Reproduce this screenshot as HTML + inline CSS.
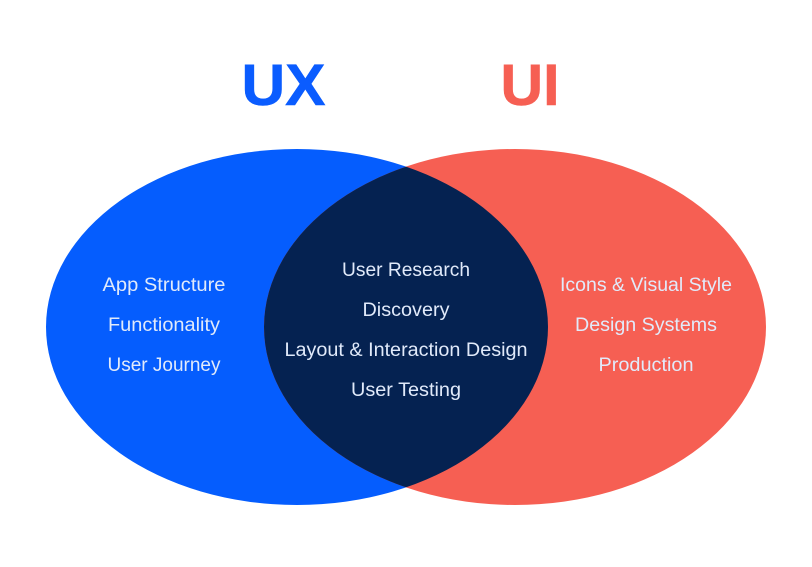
<!DOCTYPE html>
<html>
<head>
<meta charset="utf-8">
<style>
html,body{margin:0;padding:0;background:#fff;width:812px;height:567px;overflow:hidden}
svg{display:block}
text{font-family:"Liberation Sans",sans-serif;text-anchor:middle}
.t{font-size:19px;fill:#e1eafa}
.h{font-size:58px;font-weight:bold;stroke-width:.6px}
</style>
</head>
<body>
<svg width="812" height="567" viewBox="0 0 812 567" xmlns="http://www.w3.org/2000/svg">
<defs><clipPath id="c"><ellipse cx="297" cy="327" rx="251" ry="178"/></clipPath></defs>
<rect width="812" height="567" fill="#fff"/>
<text class="h" x="283.500" y="105" fill="#0a5cff" stroke="#0a5cff" textLength="84" lengthAdjust="spacingAndGlyphs">UX</text>
<text class="h" x="530" y="105" fill="#f65f53" stroke="#f65f53" textLength="59" lengthAdjust="spacingAndGlyphs">UI</text>
<ellipse cx="297" cy="327" rx="251" ry="178" fill="#055dfe"/>
<ellipse cx="515" cy="327" rx="251" ry="178" fill="#f65f53"/>
<ellipse cx="515" cy="327" rx="251" ry="178" fill="#052251" clip-path="url(#c)"/>
<text class="t" x="164" y="291" textLength="123" lengthAdjust="spacingAndGlyphs">App Structure</text>
<text class="t" x="164" y="331" textLength="112" lengthAdjust="spacingAndGlyphs">Functionality</text>
<text class="t" x="164" y="371" textLength="113" lengthAdjust="spacingAndGlyphs">User Journey</text>
<text class="t" x="406" y="276" textLength="128" lengthAdjust="spacingAndGlyphs">User Research</text>
<text class="t" x="406" y="316" textLength="87" lengthAdjust="spacingAndGlyphs">Discovery</text>
<text class="t" x="406" y="356" textLength="243" lengthAdjust="spacingAndGlyphs">Layout &amp; Interaction Design</text>
<text class="t" x="406" y="396" textLength="110" lengthAdjust="spacingAndGlyphs">User Testing</text>
<text class="t" x="646" y="291" textLength="172" lengthAdjust="spacingAndGlyphs">Icons &amp; Visual Style</text>
<text class="t" x="646" y="331" textLength="142" lengthAdjust="spacingAndGlyphs">Design Systems</text>
<text class="t" x="646" y="371" textLength="95" lengthAdjust="spacingAndGlyphs">Production</text>
</svg>
</body>
</html>
